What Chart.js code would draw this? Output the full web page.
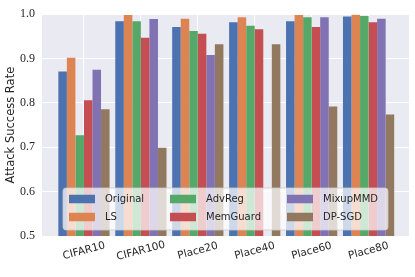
<!DOCTYPE html>
<html>
<head>
<meta charset="utf-8">
<script src="https://cdn.jsdelivr.net/npm/chart.js@4.4.0/dist/chart.umd.min.js"></script>
<style>
  body { margin: 0; background: #fff; }
</style>
</head>
<body>
<canvas id="myBarChart" width="415" height="277"></canvas>
<script>
  const categories = ["CIFAR10", "CIFAR100", "Place20", "Place40", "Place60", "Place80"];
  const original = [0.871, 0.984, 0.971, 0.982, 0.984, 0.995];
  const ls       = [0.902, 0.998, 0.990, 0.993, 0.998, 0.999];
  const advReg   = [0.727, 0.984, 0.962, 0.974, 0.993, 0.996];
  const memGuard = [0.806, 0.947, 0.956, 0.966, 0.971, 0.982];
  const mixupMMD = [0.875, 0.989, 0.908, null,  0.993, 0.990];
  const dpSgd    = [0.786, 0.699, 0.932, 0.932, 0.792, 0.774];
  const yTicks   = [0.5, 0.6, 0.7, 0.8, 0.9, 1.0];

  const series = [
    { label: "Original", data: original, color: "#4C72B0" },
    { label: "LS",       data: ls,       color: "#DD8452" },
    { label: "AdvReg",   data: advReg,   color: "#55A868" },
    { label: "MemGuard", data: memGuard, color: "#C44E52" },
    { label: "MixupMMD", data: mixupMMD, color: "#8172B3" },
    { label: "DP-SGD",   data: dpSgd,    color: "#937860" },
  ];

  // grey plot background like seaborn darkgrid
  const plotBg = {
    id: "plotBg",
    beforeDraw(chart) {
      const { ctx, chartArea: a } = chart;
      ctx.save();
      ctx.fillStyle = "#EAEAF2";
      ctx.fillRect(a.left, a.top, a.right - a.left, a.bottom - a.top);
      ctx.restore();
    },
  };

  // category labels, rotated and centred on the group
  const xLabels = {
    id: "xLabels",
    afterDraw(chart) {
      const { ctx, chartArea: a } = chart;
      const xs = chart.scales.x;
      ctx.save();
      ctx.font = "10.5px 'DejaVu Sans'";
      ctx.fillStyle = "#262626";
      ctx.textAlign = "center";
      ctx.textBaseline = "middle";
      categories.forEach((c, i) => {
        ctx.save();
        ctx.translate(xs.getPixelForValue(i), a.bottom + 15);
        ctx.rotate(-15 * Math.PI / 180);
        ctx.fillText(c, 0, 0);
        ctx.restore();
      });
      ctx.restore();
    },
  };

  // legend inside the plot, 3 columns filled column by column
  const innerLegend = {
    id: "innerLegend",
    afterDraw(chart) {
      const { ctx, chartArea: a } = chart;
      const bx = a.left + 21, by = a.bottom - 48, bw = 325, bh = 42;
      ctx.save();
      ctx.beginPath();
      ctx.roundRect(bx, by, bw, bh, 3);
      ctx.fillStyle = "rgba(255,255,255,0.72)";
      ctx.fill();
      ctx.strokeStyle = "rgba(204,204,204,0.8)";
      ctx.lineWidth = 1;
      ctx.stroke();
      const colX = [bx + 6, bx + 107, bx + 224];
      const rowY = [by + 11, by + 29];
      ctx.font = "10px 'DejaVu Sans'";
      ctx.textBaseline = "middle";
      ctx.textAlign = "left";
      series.forEach((s, i) => {
        const cx = colX[Math.floor(i / 2)];
        const cy = rowY[i % 2];
        ctx.fillStyle = s.color;
        ctx.fillRect(cx, cy - 4.25, 26, 8.5);
        ctx.fillStyle = "#262626";
        ctx.fillText(s.label, cx + 36, cy + 0.5);
      });
      ctx.restore();
    },
  };

  const ctx = document.getElementById("myBarChart");
  const dataset = {
    datasets: series.map((s) => ({
      label: s.label,
      data: s.data.map((v, i) => ({ x: i, y: v })),
      backgroundColor: s.color,
      borderWidth: 0,
      categoryPercentage: 0.9,
      barPercentage: 1.0,
    })),
  };
  const config = {
    type: "bar",
    data: dataset,
    options: {
      responsive: false,
      animation: false,
      layout: { padding: { top: 14, right: 6, left: 0, bottom: 0 } },
      plugins: { legend: { display: false }, tooltip: { enabled: false } },
      scales: {
        x: {
          type: "linear",
          offset: false,
          min: -0.737,
          max: 5.71,
          afterBuildTicks: (scale) => {
            scale.ticks = categories.map((c, i) => ({ value: i }));
          },
          afterFit: (scale) => { scale.height = 41; },
          ticks: { display: false },
          grid: { color: "#ffffff", lineWidth: 1, drawTicks: false, offset: false },
          border: { display: false },
        },
        y: {
          min: 0.5,
          max: 1.0,
          afterBuildTicks: (scale) => {
            scale.ticks = yTicks.map((v) => ({ value: v }));
          },
          afterFit: (scale) => { scale.width = 42; },
          ticks: {
            callback: (v) => v.toFixed(1),
            font: { family: "'Liberation Serif'", size: 12 },
            color: "#262626",
            padding: 7,
          },
          title: {
            display: true,
            text: "Attack Success Rate",
            font: { family: "'DejaVu Sans'", size: 11.5 },
            color: "#262626",
            padding: { top: 4, bottom: 0 },
          },
          grid: { color: "#ffffff", lineWidth: 1, drawTicks: false },
          border: { display: false },
        },
      },
    },
    plugins: [plotBg, xLabels, innerLegend],
  };
  const chart = new Chart(ctx, config);
</script>
</body>
</html>
